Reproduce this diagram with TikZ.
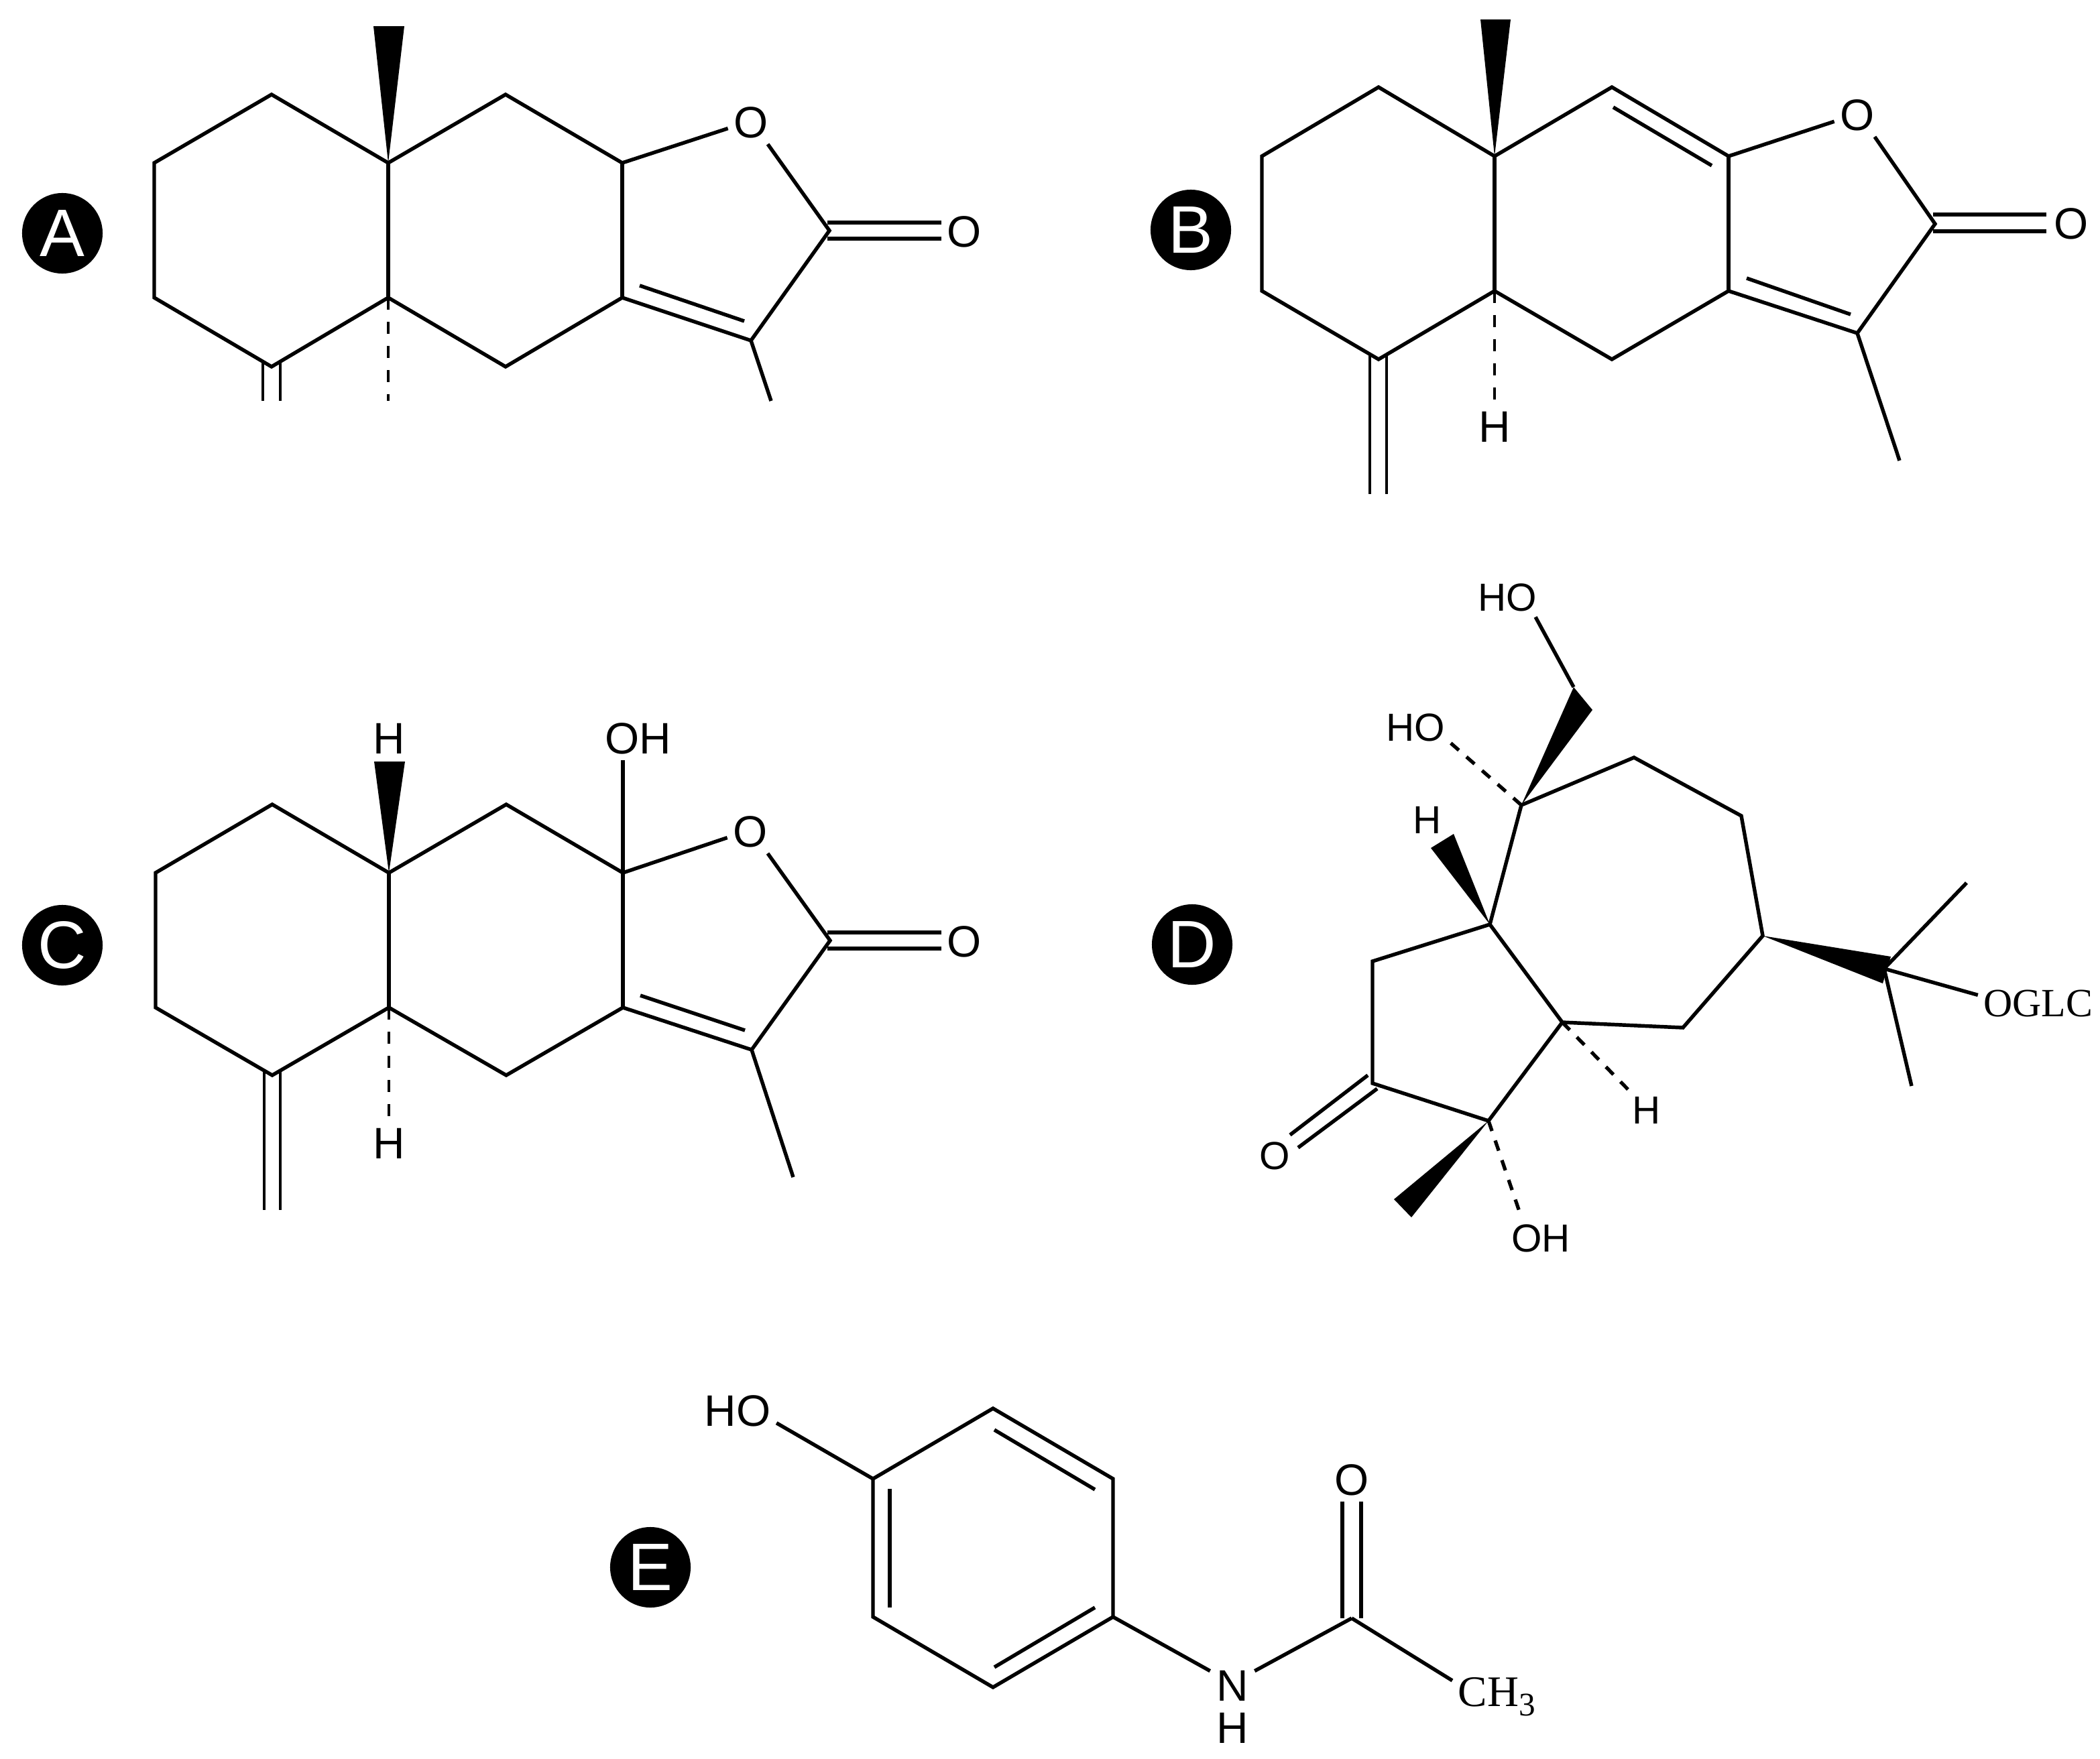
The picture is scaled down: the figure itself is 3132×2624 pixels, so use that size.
\documentclass[tikz,border=0pt]{standalone}
\usepackage{fontspec}
\setmainfont{Liberation Sans}
\newfontfamily\tms{Liberation Serif}
\usetikzlibrary{calc}
\tikzset{
  bond/.style={line width=1.55pt,line join=miter,black},
  hash/.style={line width=1.4pt,black,dash pattern=on 0.18cm off 0.18cm},
  hashd/.style={line width=1.5pt,black,dash pattern=on 0.16cm off 0.15cm},
  wedge/.style={fill=black,draw=none},
  atom/.style={inner sep=0pt,outer sep=2.5pt,black,font=\fontsize{18.7}{20}\selectfont},
  atomd/.style={inner sep=0pt,outer sep=2.5pt,black,font=\fontsize{16.6}{18}\selectfont},
  serifatom/.style={inner sep=0pt,outer sep=2.5pt,black,font=\tms\fontsize{17}{19}\selectfont},
  tag/.style={circle,fill=black,text=white,inner sep=0pt,minimum size=1.2cm,font=\fontsize{28.5}{30}\selectfont}
}
\begin{document}
\begin{tikzpicture}[x=0.01cm,y=-0.01cm]
\useasboundingbox (0,0) rectangle (3132,2624);
\fill[white] (0,0) rectangle (3132,2624);
% ---------- A
\node[tag] (tA) at (93,348) {A};
\foreach \n/\p in {a1/{230,243},a2/{405,141},a3/{579,243},a4/{754,141},a5/{928,243},a6/{1237,344},a7/{1120,508},a8/{928,444},a9/{754,547},a10/{579,444},a11/{405,547},a12/{230,444},aw1/{557,39},aw2/{603,39},ai1/{954,426},ai2/{1110,479},ame/{1150,598},ada/{392,598},adb/{418,598},adc/{392,540},add/{418,540},ah/{579,598},aca/{1234,332},acb/{1404,332},acc/{1234,356},acd/{1404,356}}
  {\coordinate (\n) at (\p);}
\node[atom] (aO) at (1120,183) {O};
\node[atom] (aOx) at (1438,346) {O};
\draw[bond] (aO.194) -- (a5) -- (a4) -- (a3) -- (a2) -- (a1) -- (a12) -- (a11) -- (a10) -- (a9) -- (a8) -- (a7) -- (a6) -- (aO.-52);
\draw[bond] (a3) -- (a10);
\draw[bond] (a5) -- (a8);
\draw[bond] (ai1) -- (ai2);
\draw[bond] (a7) -- (ame);
\draw[bond] (aca) -- (acb);
\draw[bond] (acc) -- (acd);
\draw[bond,line width=1.3pt] (adc) -- (ada);
\draw[bond,line width=1.3pt] (add) -- (adb);
\draw[hash] (a10) -- (ah);
\fill[wedge] (a3) -- (aw1) -- (aw2) -- cycle;
% ---------- B
\node[tag] (tB) at (1776,343) {B};
\foreach \n/\p in {b1/{1882,233},b2/{2056,130},b3/{2229,233},b4/{2404,130},b5/{2578,233},b6/{2886,334},b7/{2770,497},b8/{2578,434},b9/{2404,536},b10/{2229,434},b11/{2056,536},b12/{1882,434},bw1/{2208,29},bw2/{2253,29},bi1/{2406,160},bi2/{2553,247},bi3/{2605,415},bi4/{2760,469},bme/{2833,687},bda/{2043,737},bdb/{2068,737},bdc/{2043,529},bdd/{2068,529},bca/{2883,320},bcb/{3052,320},bcc/{2883,345},bcd/{3052,345}}
  {\coordinate (\n) at (\p);}
\node[atom] (bO) at (2770,172) {O};
\node[atom] (bOx) at (3089,334) {O};
\node[atom] (bH) at (2229,637) {H};
\draw[bond] (bO.195) -- (b5) -- (b4) -- (b3) -- (b2) -- (b1) -- (b12) -- (b11) -- (b10) -- (b9) -- (b8) -- (b7) -- (b6) -- (bO.-51);
\draw[bond] (b3) -- (b10);
\draw[bond] (b5) -- (b8);
\draw[bond] (bi1) -- (bi2);
\draw[bond] (bi3) -- (bi4);
\draw[bond] (b7) -- (bme);
\draw[bond] (bca) -- (bcb);
\draw[bond] (bcc) -- (bcd);
\draw[bond,line width=1.3pt] (bdc) -- (bda);
\draw[bond,line width=1.3pt] (bdd) -- (bdb);
\draw[hash] (b10) -- (bH.north);
\fill[wedge] (b3) -- (bw1) -- (bw2) -- cycle;
% ---------- C
\node[tag] (tC) at (93,1410) {C};
\foreach \n/\p in {c1/{232,1302},c2/{406,1200},c3/{580,1302},c4/{755,1200},c5/{929,1302},c6/{1238,1403},c7/{1121,1566},c8/{929,1503},c9/{755,1604},c10/{580,1503},c11/{406,1604},c12/{232,1503},cw1/{558,1136},cw2/{604,1136},ci1/{955,1485},ci2/{1111,1537},cme/{1183,1756},cda/{394,1805},cdb/{418,1805},cdc/{394,1599},cdd/{418,1599},cca/{1234,1391},ccb/{1404,1391},ccc/{1234,1415},ccd/{1404,1415}}
  {\coordinate (\n) at (\p);}
\node[atom] (cO) at (1119,1241) {O};
\node[atom] (cOx) at (1438,1405) {O};
\node[atom] (cHt) at (580,1102) {H};
\node[atom] (cOH) at (952,1102) {OH};
\node[atom] (cHb) at (580,1706) {H};
\draw[bond] (cO.194) -- (c5) -- (c4) -- (c3) -- (c2) -- (c1) -- (c12) -- (c11) -- (c10) -- (c9) -- (c8) -- (c7) -- (c6) -- (cO.-51);
\draw[bond] (c3) -- (c10);
\draw[bond] (c5) -- (c8);
\draw[bond] (ci1) -- (ci2);
\draw[bond] (c7) -- (cme);
\draw[bond] (cca) -- (ccb);
\draw[bond] (ccc) -- (ccd);
\draw[bond] (c5) -- (c5 |- cOH.south);
\draw[bond,line width=1.3pt] (cdc) -- (cda);
\draw[bond,line width=1.3pt] (cdd) -- (cdb);
\draw[hash] (c10) -- (cHb.north);
\fill[wedge] (c3) -- (cw1) -- (cw2) -- cycle;
% ---------- D
\node[tag] (tD) at (1778,1409) {D};
\foreach \n/\p in {d1/{2269,1201},d2/{2437,1130},d3/{2597,1217},d4/{2629,1396},d5/{2510,1533},d6/{2330,1525},d7/{2222,1379},d8/{2047,1434},d9/{2047,1616},d10/{2220,1672},dq/{2810,1445},dm1/{2933,1317},dm2/{2851,1620},dwa/{2347,1025},dwb/{2375,1059},dwc/{2134,1265},dwd/{2168,1244},dwe/{2820,1427},dwf/{2808,1467},dwg/{2079,1789},dwh/{2105,1816},dca/{2040,1604},dcb/{1924,1693},dcc/{2054,1624},dcd/{1936,1712}}
  {\coordinate (\n) at (\p);}
\node[atomd] (dHOa) at (2248,891) {HO};
\node[atomd] (dHOb) at (2111,1085) {HO};
\node[atomd] (dH1) at (2129,1223) {H};
\node[atomd] (dH2) at (2456,1656) {H};
\node[atomd] (dOk) at (1901,1724) {O};
\node[atomd] (dOH) at (2298,1847) {OH};
\node[serifatom] (dG) at (3040,1497) {OGLC};
\draw[bond] (d1) -- (d2) -- (d3) -- (d4) -- (d5) -- (d6) -- (d7) -- cycle;
\draw[bond] (d7) -- (d8) -- (d9) -- (d10) -- (d6);
\draw[bond] (dca) -- (dcb);
\draw[bond] (dcc) -- (dcd);
\draw[bond] (dHOa.-35) -- (dwa);
\draw[bond] (dq) -- (dm1);
\draw[bond] (dq) -- (dm2);
\draw[bond] (dq) -- (dG.172);
\draw[hashd] (d1) -- (dHOb.-24);
\draw[hashd] (d6) -- (dH2.132);
\draw[hashd] (d10) -- (dOH.134);
\fill[wedge] (d1) -- (dwa) -- (dwb) -- cycle;
\fill[wedge] (d7) -- (dwc) -- (dwd) -- cycle;
\fill[wedge] (d4) -- (dwe) -- (dwf) -- cycle;
\fill[wedge] (d10) -- (dwg) -- (dwh) -- cycle;
% ---------- E
\node[tag] (tE) at (970,2338) {E};
\foreach \n/\p in {e1/{1302,2206},e2/{1481,2101},e3/{1660,2206},e4/{1660,2412},e5/{1481,2517},e6/{1302,2412},ei1/{1327,2221},ei2/{1327,2398},ei3/{1483,2133},ei4/{1633,2222},ei5/{1633,2398},ei6/{1483,2487},ec/{2016,2414},eda/{2002,2414},edb/{2030,2414}}
  {\coordinate (\n) at (\p);}
\node[atom] (eHO) at (1100,2105) {HO};
\node[atom,outer sep=1pt] (eN) at (1838,2515) {N};
\node[atom,outer sep=0pt] (eH) at (1838,2578) {H};
\node[atom] (eO) at (2016,2208) {O};
\node[serifatom,anchor=base west,font=\tms\fontsize{18.5}{20}\selectfont] (eCH) at (2166,2545) {CH\raisebox{-4.2pt}{\fontsize{14}{14}\selectfont 3}};
\draw[bond] (e1) -- (e2) -- (e3) -- (e4) -- (e5) -- (e6) -- cycle;
\draw[bond] (ei1) -- (ei2);
\draw[bond] (ei3) -- (ei4);
\draw[bond] (ei5) -- (ei6);
\draw[bond] (eHO.-17) -- (e1);
\draw[bond] (e4) -- ([shift={(-6,-6)}]eN.149);
\draw[bond] ([shift={(6,-6)}]eN.31) -- (ec);
\draw[bond] (ec) -- (eCH.160);
\draw[bond] (eda) -- (eda |- eO.south);
\draw[bond] (edb) -- (edb |- eO.south);
\end{tikzpicture}
\end{document}
